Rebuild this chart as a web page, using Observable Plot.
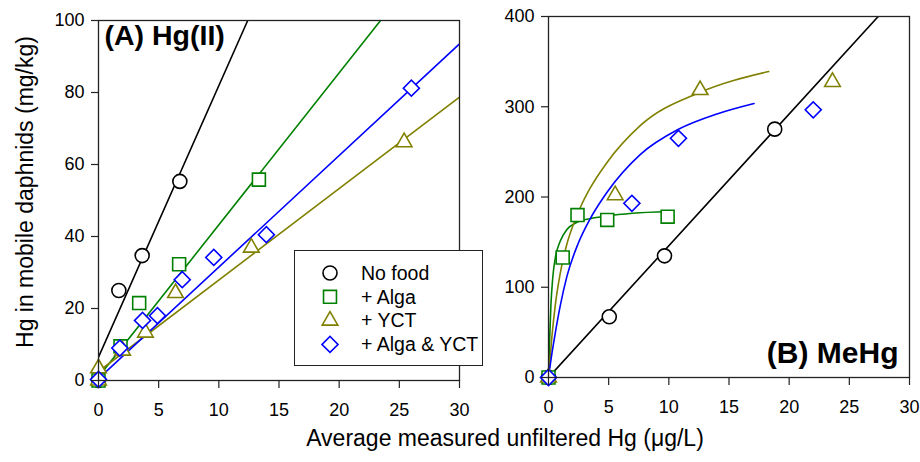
<!DOCTYPE html>
<html><head><meta charset="utf-8">
<script src="https://cdn.jsdelivr.net/npm/d3@7"></script>
<script src="https://cdn.jsdelivr.net/npm/@observablehq/plot@0.6"></script>
<style>
body{margin:0;background:#fff;}
#chart{position:relative;width:920px;height:462px;font-family:Arial,"Liberation Sans",sans-serif;overflow:hidden;background:#fff;color:#000}
#chart > svg{position:absolute;top:0}
.ttl{position:absolute;white-space:nowrap;font-size:23px;line-height:1;transform:translate(-50%,-50%)}
#legend{position:absolute;left:294px;top:250px;width:189px;height:116px;border:1.2px solid #222;background:#fff;box-sizing:border-box}
#legend svg{position:absolute;left:0;top:0}
</style></head><body><div id="chart"></div>
<script>
// ---------- data ----------
const xTicks = [0, 5, 10, 15, 20, 25, 30];
const yTicksA = [0, 20, 40, 60, 80, 100];
const yTicksB = [0, 100, 200, 300, 400];
const seriesNames = ["No food", "+ Alga", "+ YCT", "+ Alga & YCT"];
const panelLabels = ["(A) Hg(II)", "(B) MeHg"];
const xTitle = "Average measured unfiltered Hg (\u03bcg/L)";
const yTitle = "Hg in mobile daphnids (mg/kg)";

// Panel A: Hg(II) measurements
const aNoFoodX = [0, 1.69, 3.63, 6.76];
const aNoFoodY = [0, 25, 34.7, 55.3];
const aAlgaX = [0, 1.83, 3.38, 6.7, 13.33];
const aAlgaY = [0, 9.5, 21.5, 32.3, 55.8];
const aYctX = [0, 0, 2.0, 3.9, 6.4, 12.7, 25.4];
const aYctY = [0, 3.4, 8.3, 13.3, 24.3, 36.9, 66.2];
const aBothX = [0, 1.77, 3.66, 4.9, 6.96, 9.58, 13.95, 26.0];
const aBothY = [0.3, 9, 16.7, 18, 28, 34.2, 40.5, 81.2];
// Panel A: regression lines (end points)
const aFitNoFoodX = [0, 12.4],  aFitNoFoodY = [6.5, 100];
const aFitAlgaX = [0, 23.44],   aFitAlgaY = [1, 100];
const aFitYctX = [0, 30],       aFitYctY = [2.5, 78.7];
const aFitBothX = [0, 30],      aFitBothY = [0.5, 93.5];

// Panel B: MeHg measurements
const bNoFoodX = [0, 5.05, 9.64, 18.8];
const bNoFoodY = [0, 67.3, 134.8, 275.2];
const bAlgaX = [0, 1.18, 2.41, 4.88, 9.9];
const bAlgaY = [0, 133, 180, 174.6, 178.2];
const bYctX = [0, 5.54, 12.6, 23.6];
const bYctY = [0, 202, 318.5, 327.5];
const bBothX = [0, 6.93, 10.8, 22.0];
const bBothY = [0, 193, 265, 296.6];
// Panel B: fitted curves
const bFitNoFoodX = [0, 27.4], bFitNoFoodY = [0, 400];
const bFitAlgaX = [0, 0.1, 0.2, 0.35, 0.56, 0.97, 1.53, 2.36, 3.47, 4.85, 7, 9.9];
const bFitAlgaY = [0, 45, 80, 110, 132, 151, 164, 172, 176, 179, 182, 184];
const bFitYctX = [0, 0.28, 0.56, 0.97, 1.53, 2.08, 2.7, 3.47, 4.85, 7.62, 12.6, 18.3];
const bFitYctY = [0, 45, 80, 115, 148, 170, 190, 210, 238, 279, 316, 339];
const bFitBothX = [0, 0.3, 0.56, 0.97, 1.53, 2.45, 3.47, 4.85, 7.62, 10.8, 14, 17.08];
const bFitBothY = [0, 28, 49, 79, 112, 148, 176, 205, 247, 275, 292, 303.6];

// ---------- styles ----------
const colors = ["#000000", "#008000", "#808000", "#0000ff"];
const symbols = ["circle", "square", "triangle", "square"];
const rotations = [0, 0, 0, 45];
const radii = [7, 7.3, 5.8, 6.4];

const zip = (xs, ys) => xs.map((x, i) => ({x, y: ys[i]}));

function dots(pts, k) {
  return Plot.dot(pts, {x: "x", y: "y", symbol: () => symbols[k], r: radii[k], rotate: rotations[k],
    stroke: colors[k], strokeWidth: 1.6, fill: "white"});
}
function line(pts, k, curve) {
  return Plot.line(pts, {x: "x", y: "y", stroke: colors[k], strokeWidth: 1.6, curve: curve || "linear", clip: true});
}

function panel({yDomain, yTicks, fits, pts, label, marginTop, marginBottom, marginRight, width, labelOpts}) {
  return Plot.plot({
    width, height: 430,
    marginLeft: 98, marginRight, marginTop, marginBottom,
    style: {fontFamily: "Arial, 'Liberation Sans', sans-serif", fontSize: "18px", background: "transparent", overflow: "visible"},
    x: {domain: [0, 30]},
    y: {domain: yDomain},
    symbol: {type: "identity"},
    marks: [
      ...fits,
      ...pts,
      Plot.frame({stroke: "#222", strokeWidth: 1.3}),
      Plot.axisX(xTicks, {tickSize: 8, tickPadding: 15, stroke: "#222", strokeWidth: 1.2, fontSize: 18, label: null}),
      Plot.axisY(yTicks, {tickSize: 7, tickPadding: 7, stroke: "#222", strokeWidth: 1.2, fontSize: 18, label: null}),
      Plot.text([label], {text: d => d, fontWeight: "bold", fill: "black", ...labelOpts})
    ]
  });
}

const chart = document.getElementById("chart");

const svgA = panel({
  width: 480, marginTop: 20, marginBottom: 50, marginRight: 21,
  yDomain: [0, 100], yTicks: yTicksA, label: panelLabels[0],
  labelOpts: {frameAnchor: "top-left", textAnchor: "start", lineAnchor: "top", dx: 6, dy: 4, fontSize: 28.5},
  fits: [
    line(zip(aFitNoFoodX, aFitNoFoodY), 0),
    line(zip(aFitAlgaX, aFitAlgaY), 1),
    line(zip(aFitYctX, aFitYctY), 2),
    line(zip(aFitBothX, aFitBothY), 3)
  ],
  pts: [
    dots(zip(aNoFoodX, aNoFoodY), 0),
    dots(zip(aAlgaX, aAlgaY), 1),
    dots(zip(aYctX, aYctY), 2),
    dots(zip(aBothX, aBothY), 3)
  ]
});
svgA.style.left = "0px";
chart.appendChild(svgA);

const svgB = panel({
  width: 470, marginTop: 16, marginBottom: 53, marginRight: 11,
  yDomain: [0, 400], yTicks: yTicksB, label: panelLabels[1],
  labelOpts: {frameAnchor: "bottom-right", textAnchor: "end", lineAnchor: "bottom", dx: -11, dy: -15, fontSize: 30},
  fits: [
    line(zip(bFitNoFoodX, bFitNoFoodY), 0),
    line(zip(bFitAlgaX, bFitAlgaY), 1, "monotone-x"),
    line(zip(bFitYctX, bFitYctY), 2, "monotone-x"),
    line(zip(bFitBothX, bFitBothY), 3, "monotone-x")
  ],
  pts: [
    dots(zip(bNoFoodX, bNoFoodY), 0),
    dots(zip(bAlgaX, bAlgaY), 1),
    dots(zip(bYctX, bYctY), 2),
    dots(zip(bBothX, bBothY), 3)
  ]
});
svgB.style.left = "450px";
chart.appendChild(svgB);

// legend
const legend = document.createElement("div");
legend.id = "legend";
chart.appendChild(legend);
const lsvg = d3.select(legend).append("svg").attr("width", 189).attr("height", 116)
  .style("font-family", "Arial, 'Liberation Sans', sans-serif").style("font-size", "19.5px");
const symMap = {circle: d3.symbolCircle, square: d3.symbolSquare, triangle: d3.symbolTriangle};
seriesNames.forEach((name, k) => {
  const cy = 22 + k * 23.8;
  lsvg.append("path")
    .attr("d", d3.symbol(symMap[symbols[k]], Math.PI * radii[k] * radii[k])())
    .attr("transform", `translate(35,${cy}) rotate(${rotations[k]})`)
    .attr("fill", "white").attr("stroke", colors[k]).attr("stroke-width", 1.6);
  lsvg.append("text").attr("x", 66).attr("y", cy).attr("dy", "0.35em").text(name);
});

// axis titles
const xt = document.createElement("div");
xt.className = "ttl"; xt.textContent = xTitle;
xt.style.left = "505px"; xt.style.top = "438px";
chart.appendChild(xt);
const yt = document.createElement("div");
yt.className = "ttl"; yt.textContent = yTitle;
yt.style.left = "25px"; yt.style.top = "192px";
yt.style.transform = "translate(-50%,-50%) rotate(-90deg)";
chart.appendChild(yt);
</script></body></html>
